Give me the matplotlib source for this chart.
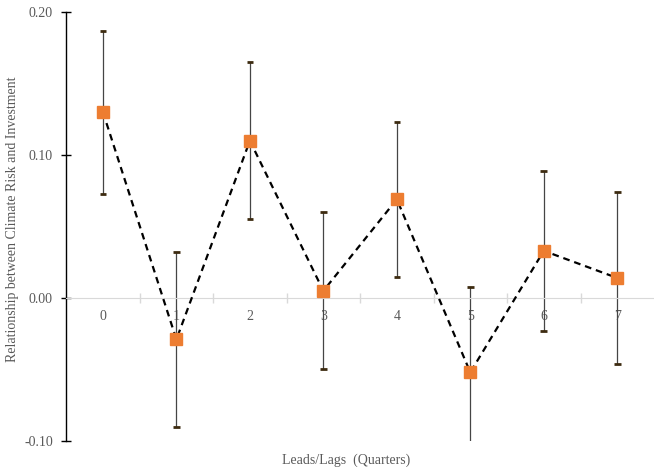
import numpy as np
import matplotlib.pyplot as plt

# Estimates for each lead/lag (quarters), with error bar half-widths
quarters = [0, 1, 2, 3, 4, 5, 6, 7]
tick_labels = ["0", "1", "2", "3", "4", "5", "6", "7"]
coef = [0.130, -0.029, 0.110, 0.005, 0.069, -0.052, 0.033, 0.014]
err = [0.057, 0.061, 0.055, 0.055, 0.054, 0.060, 0.056, 0.060]

plt.rcParams["font.family"] = ["Liberation Serif", "DejaVu Serif"]
grey_text = "#595959"

fig = plt.figure(figsize=(6.54, 4.67), dpi=100)
ax = fig.add_axes([0.1012, 0.0557, 0.8988, 0.9186])

# Error bars (thin stems, short dark caps)
ax.errorbar(quarters, coef, yerr=err, fmt="none", ecolor="#454545",
            elinewidth=0.9, capsize=0, zorder=2)
for x, c, e in zip(quarters, coef, err):
    for yy in (c - e, c + e):
        ax.plot([x - 0.045, x + 0.045], [yy, yy], color="#3d2b10", lw=2,
                solid_capstyle="butt", zorder=3)

# Dashed connecting line and square markers
ax.plot(quarters, coef, color="black", ls=(0, (3, 2.2)), lw=1.6, zorder=4)
ax.plot(quarters, coef, ls="none", marker="s", ms=8, color="#ED7D31",
        markeredgecolor="#ED7D31", zorder=5)

ax.set_xlim(-0.5, 7.5)
ax.set_ylim(-0.10, 0.20)

# Axes styling
ax.spines["top"].set_visible(False)
ax.spines["right"].set_visible(False)
ax.spines["bottom"].set_position(("data", 0))
ax.spines["bottom"].set_color("#d9d9d9")
ax.spines["left"].set_color("black")
ax.spines["left"].set_linewidth(1.0)

ax.set_xticks(quarters)
ax.set_xticklabels(tick_labels)
ax.set_xticks(np.arange(0.5, 7.5, 1.0), minor=True)
ax.tick_params(axis="x", which="major", length=0, pad=9,
               labelsize=10, labelcolor=grey_text)
ax.tick_params(axis="x", which="minor", direction="inout", length=7,
               color="#d9d9d9", width=1)

ax.set_yticks([-0.10, 0.00, 0.10, 0.20])
ax.set_yticklabels(["-0.10", "0.00", "0.10", "0.20"])
ax.tick_params(axis="y", direction="inout", length=7, width=1,
               color="black", labelsize=10, labelcolor=grey_text, pad=6)

fig.text(13 / 654, 1 - 219.5 / 467,
         "Relationship between Climate Risk and Investment",
         rotation=90, ha="center", va="center", fontsize=10, color=grey_text)
fig.text(346 / 654, 1 - 460 / 467, "Leads/Lags  (Quarters)",
         ha="center", va="center", fontsize=10, color=grey_text)

fig.savefig("out.png", dpi=100)
